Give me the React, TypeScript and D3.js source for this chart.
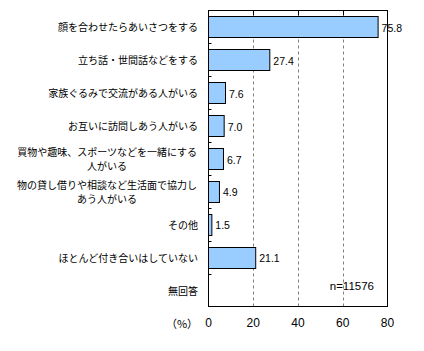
import React from "react";
import * as d3 from "d3";

const categories: string[][] = [
  ["顔を合わせたらあいさつをする"],
  ["立ち話・世間話などをする"],
  ["家族ぐるみで交流がある人がいる"],
  ["お互いに訪問しあう人がいる"],
  ["買物や趣味、スポーツなどを一緒にする", "人がいる"],
  ["物の貸し借りや相談など生活面で協力し", "あう人がいる"],
  ["その他"],
  ["ほとんど付き合いはしていない"],
  ["無回答"],
];
const values: (number | null)[] = [75.8, 27.4, 7.6, 7.0, 6.7, 4.9, 1.5, 21.1, null];
const xTicks: number[] = [0, 20, 40, 60, 80];
const gridTicks: number[] = [20, 40, 60];
const unitLabel = "（%）";
const noteLabel = "n=11576";

const W = 424;
const H = 351;
const left = 208.5;
const right = 387.5;
const top = 10.5;
const bottom = 306.5;

const JP = "'Noto Sans CJK JP', 'Noto Sans', sans-serif";
const NUM = "'Liberation Sans', Arial, sans-serif";
const LINE_GAP = 14;

export default function App() {
  const x = d3.scaleLinear().domain([0, 80]).range([left, right]);
  const idx = categories.map((_, i) => String(i));
  const y = d3.scaleBand().domain(idx).range([top, bottom]).paddingInner(0.36).paddingOuter(0.18);
  const step = y.step();
  const boundaries = d3.range(1, categories.length).map((i) => top + i * step);

  return (
    <svg width={W} height={H} style={{ position: "absolute", left: 0, top: 0, background: "#fff" }}>
      {gridTicks.map((t) => (
        <line key={"g" + t} x1={Math.round(x(t)) + 0.5} x2={Math.round(x(t)) + 0.5} y1={top + 5} y2={bottom}
          stroke="#808080" strokeDasharray="3,3" />
      ))}
      {gridTicks.map((t) => (
        <line key={"tt" + t} x1={Math.round(x(t)) + 0.5} x2={Math.round(x(t)) + 0.5} y1={top} y2={top + 5}
          stroke="#000" />
      ))}
      {values.map((v, i) =>
        v == null ? null : (
          <g key={"b" + i}>
            <rect x={left} y={Math.round(y(String(i))!) + 0.5} width={x(v) - left} height={Math.round(y.bandwidth())}
              fill="#99CCFF" stroke="#000" strokeWidth={1} />
            <text x={x(v) + 3.5} y={y(String(i))! + y.bandwidth() / 2 + 1} dominantBaseline="central"
              fontSize={10.5} fontFamily={NUM} fill="#000">{v.toFixed(1)}</text>
          </g>
        )
      )}
      <rect x={left} y={top} width={right - left} height={bottom - top} fill="none" stroke="#000" strokeWidth={1} />
      {boundaries.map((b, i) => (
        <line key={"lt" + i} x1={left} x2={left + 3} y1={Math.round(b) + 0.5} y2={Math.round(b) + 0.5} stroke="#000" />
      ))}
      {categories.map((lines, i) => {
        const cy = y(String(i))! + y.bandwidth() / 2;
        if (lines.length === 1) {
          return (
            <text key={"c" + i} x={198} y={cy} textAnchor="end" dominantBaseline="central"
              fontSize={10} fontFamily={JP} fill="#000">{lines[0]}</text>
          );
        }
        const cx = 198 - (lines[0].length * 10.1) / 2;
        return (
          <g key={"c" + i}>
            {lines.map((ln, j) => (
              <text key={j} x={cx} y={cy - LINE_GAP / 2 + j * LINE_GAP} textAnchor="middle" dominantBaseline="central"
                fontSize={10} fontFamily={JP} fill="#000">{ln}</text>
            ))}
          </g>
        );
      })}
      {xTicks.map((t) => (
        <text key={"xt" + t} x={x(t)} y={323} textAnchor="middle" dominantBaseline="central"
          fontSize={12} fontFamily={NUM} fill="#000">{t}</text>
      ))}
      <text x={182} y={323} textAnchor="middle" dominantBaseline="central" fontSize={11} fontFamily={JP} fill="#000">{unitLabel}</text>
      <text x={374} y={286} textAnchor="end" dominantBaseline="central" fontSize={11.5} fontFamily={NUM} fill="#000">{noteLabel}</text>
    </svg>
  );
}
